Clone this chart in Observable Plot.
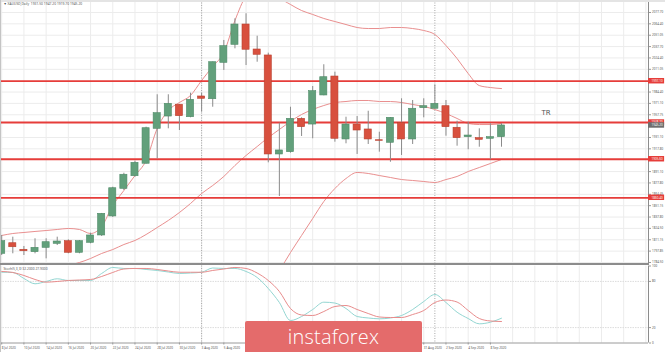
<!DOCTYPE html>
<html><head><meta charset="utf-8">
<script src="https://cdn.jsdelivr.net/npm/d3@7"></script>
<script src="https://cdn.jsdelivr.net/npm/@observablehq/plot@0.6"></script>
<style>
html,body{margin:0;padding:0;background:#fff;}
#chart{position:relative;width:665px;height:352px;overflow:hidden;font-family:Tahoma,"DejaVu Sans",sans-serif;background:#fff;}
#chart svg{position:absolute;left:0;}
#topband{position:absolute;left:0;top:0;width:665px;height:2px;background:#e4e4e4;}
#leftline{position:absolute;left:0;top:0;width:1px;height:352px;background:#c4c4c4;}
#sep{position:absolute;left:0;top:263px;width:649px;height:2px;background:#8c8c8c;}
#logo{position:absolute;left:245px;top:321px;width:177px;height:31px;background:#e46b6b;border-radius:2px 2px 0 0;color:#fff;font-family:"Open Sans",sans-serif;font-weight:300;font-size:20px;line-height:31px;text-align:center;letter-spacing:0.2px;}
</style></head><body><div id="chart"></div>
<script>
// ---- data ----
const symbol = "XAUUSD,Daily";
const open  = [1794.7,1807.1,1799.4,1796.6,1801.7,1806.4,1809.5,1795.9,1807.6,1816.2,1838.5,1870.9,1885.7,1900.3,1941.3,1955.7,1969.5,1954.9,1979.2,1976.0,2018.7,2039.8,2063.6,2034.3,2027.3,1911.2,1913.9,1953.0,1946.3,1980.4,2002.6,1928.8,1946.3,1940.5,1927.9,1924.9,1948.3,1928.8,1965.5,1964.8,1967.8,1942.5,1931.5,1930.3,1929.6,1931.5];
const high  = [1816.2,1814.2,1803.3,1812.3,1812.3,1814.2,1811.1,1810.3,1818.9,1842.0,1872.8,1889.2,1903.3,1943.2,1981.2,1981.2,1969.9,1983.1,1983.1,2019.6,2044.9,2070.3,2076.2,2049.9,2030.0,1947.9,1966.6,1954.2,1990.9,2016.4,2007.7,1954.9,1955.7,1961.9,1937.3,1954.5,1976.5,1974.5,1976.5,1992.9,1974.5,1950.2,1949.0,1941.3,1947.2,1947.2];
const low   = [1792.7,1794.7,1792.7,1794.7,1788.8,1804.4,1794.7,1794.7,1806.4,1815.0,1837.3,1868.9,1884.5,1900.0,1906.1,1941.3,1939.3,1954.2,1960.8,1966.6,2009.7,2035.1,2015.5,2019.4,1901.4,1861.9,1912.7,1932.3,1929.6,1980.0,1925.6,1923.7,1911.2,1922.9,1913.9,1902.1,1910.0,1922.9,1954.2,1964.5,1932.6,1920.9,1916.7,1919.7,1904.9,1919.7];
const close = [1809.5,1802.4,1797.7,1801.7,1808.3,1809.1,1795.9,1809.5,1816.2,1841.6,1871.6,1887.4,1901.4,1942.0,1959.6,1970.6,1956.1,1975.3,1976.5,2019.4,2038.2,2063.6,2034.0,2028.1,1911.2,1915.9,1953.0,1943.2,1985.4,2001.8,1929.6,1946.3,1939.3,1928.8,1927.2,1954.2,1928.8,1964.8,1967.8,1970.6,1943.2,1930.3,1933.4,1928.4,1931.5,1945.2];
const bbUpper  = [1816.2,1818.5,1819.7,1820.9,1822.0,1823.2,1824.4,1823.2,1818.5,1826.7,1851.4,1868.9,1886.5,1904.1,1941.7,1962.8,1972.1,1980.4,1998.0,2014.4,2030.8,2068.3,2097.6,2109.4,2109.4,2095.3,2087.1,2080.0,2075.4,2070.7,2067.1,2063.6,2060.1,2058.9,2058.9,2060.1,2060.1,2058.9,2056.6,2051.9,2038.9,2023.7,2006.1,1992.0,1989.7,1988.5];
const bbMiddle = [null,null,null,null,null,1777.5,1781.0,1784.5,1789.2,1795.1,1799.7,1805.6,1810.3,1817.3,1825.5,1833.8,1843.1,1853.7,1865.4,1874.8,1885.4,1898.3,1910.0,1920.5,1931.1,1940.5,1949.9,1958.1,1963.9,1968.6,1972.1,1973.3,1974.5,1974.5,1973.3,1973.3,1972.1,1969.8,1967.5,1963.9,1959.2,1953.4,1947.5,1946.3,1946.3,1947.5];
const bbLower  = [null,null,null,null,null,null,null,null,null,null,null,null,null,null,null,null,null,null,null,null,null,null,null,null,1757.5,1775.1,1796.2,1816.2,1836.1,1856.0,1871.3,1883.0,1890.1,1888.9,1886.5,1884.2,1881.8,1880.7,1879.5,1878.3,1881.8,1885.4,1891.2,1895.9,1900.6,1905.3];
const stochK = [91.9,91.6,83.8,76.9,79.9,83.4,81.2,81.2,81.2,90.3,98.1,96.8,96.8,95.5,94.2,92.2,90.3,90.9,91.9,97.4,96.8,96.8,92.9,85.1,70.8,52.6,29.2,34.4,43.5,53.0,51.9,44.8,34.4,32.5,31.4,32.5,35.7,43.5,53.9,63.0,52.6,40.0,31.8,24.9,27.0,32.2];
const stochD = [92.9,91.6,87.7,82.5,79.0,79.9,81.2,81.8,82.5,86.4,91.6,96.1,96.8,96.8,95.5,93.5,91.9,91.9,91.9,94.2,96.1,98.1,96.8,90.9,81.2,66.9,44.8,36.4,35.7,40.9,47.4,48.7,43.5,38.3,33.8,33.1,33.1,37.0,42.2,52.6,55.8,53.2,42.2,31.8,28.6,27.9];
const levels = [1997.1,1948.7,1905.6,1860.4];
const levelLabels = ["1997.10","1948.70","1905.60","1860.40"];
const priceTicks = [2077.70,2064.40,2051.05,2037.70,2024.40,2011.05,1984.40,1971.10,1957.75,1931.10,1917.80,1891.10,1877.80,1864.45,1851.15,1837.80,1824.50,1811.15,1797.85,1784.50];
const priceTickLabels = ["2077.70","2064.40","2051.05","2037.70","2024.40","2011.05","1984.40","1971.10","1957.75","1931.10","1917.80","1891.10","1877.80","1864.45","1851.15","1837.80","1824.50","1811.15","1797.85","1784.50"];
// date labels visible in the reference (those under the watermark are hidden there)
const dateTickIdx = [0,2,4,6,8,10,12,14,16,18,20,38,40,42,44];
const dateTickLabels = ["8 Jul 2020","10 Jul 2020","14 Jul 2020","16 Jul 2020","20 Jul 2020","22 Jul 2020","24 Jul 2020","28 Jul 2020","30 Jul 2020","3 Aug 2020","5 Aug 2020","31 Aug 2020","2 Sep 2020","4 Sep 2020","8 Sep 2020"];
const gridIdx = [0,2,4,6,8,10,12,14,16,18,20,22,24,26,28,30,32,34,36,38,40,42,44,46,48,50,52,54,56,58];
const monthSeparators = [18,39];
const stochTicks = [100,80,20,0];
const stochLevels = [80,20];
const annotation = {text:"TR", index:49, price:1960.4};

// ---- scales / layout ----
const X_DOMAIN = [-0.108, 58.234];
const Y_DOMAIN = [1782.15, 2091.77];
const C_UP = "#62a07b", C_DN = "#d8503e", C_LEVEL = "#e63d3a", C_BAND = "#e98f8f";

const candles = open.map((o,i)=>({i, o, h:high[i], l:low[i], c:close[i], up: close[i] >= o}));
const bands = [];
[["u",bbUpper],["m",bbMiddle],["l",bbLower]].forEach(([k,arr]) => arr.forEach((v,i)=>bands.push({k,i,v})));
const tickLab = new Map(priceTicks.map((t,i)=>[t, priceTickLabels[i]]));
const dateLab = new Map(dateTickIdx.map((t,i)=>[t, dateTickLabels[i]]));
const last = candles[candles.length-1];
const header = `▼ ${symbol}  ${last.o.toFixed(2)} ${last.h.toFixed(2)} ${last.l.toFixed(2)} ${last.c.toFixed(2)}`;
const fmt = d3.format(".2f");

const chart = document.getElementById("chart");

const main = Plot.plot({
  width: 665, height: 264,
  marginLeft: 0, marginRight: 17, marginTop: 0, marginBottom: 0,
  x: {domain: X_DOMAIN, axis: null},
  y: {domain: Y_DOMAIN, axis: null},
  style: {background: "transparent", overflow: "visible"},
  marks: [
    Plot.ruleX(gridIdx, {stroke: "#ececec", strokeWidth: 1}),
    Plot.ruleY(priceTicks, {stroke: "#ececec", strokeWidth: 1}),
    Plot.ruleX(monthSeparators, {stroke: "#a8a8a8", strokeDasharray: "1,1.5"}),
    Plot.line(bands, {x: "i", y: "v", z: "k", stroke: C_BAND, strokeWidth: 1, clip: true, curve: "monotone-x"}),
    Plot.ruleY(levels, {stroke: C_LEVEL, strokeWidth: 1.8}),
    Plot.ruleX(candles, {x: "i", y1: "l", y2: "h", stroke: "#8a8a8a", strokeWidth: 1, clip: true}),
    Plot.rect(candles, {x1: d => d.i - 0.32, x2: d => d.i + 0.32, y1: "o", y2: "c",
      fill: d => d.up ? C_UP : C_DN, stroke: d => d.up ? "#4f8a68" : "#b9412f", strokeWidth: 0.6, clip: true}),
    Plot.text([annotation], {x: "index", y: "price", text: "text", fontSize: 7, fill: "#555", fontFamily: "Tahoma, DejaVu Sans, sans-serif"}),
    Plot.text([header], {frameAnchor: "top-left", dx: 3, dy: 2.5, fontSize: 3.3, fill: "#555", lineAnchor: "top"}),
    Plot.ruleX([X_DOMAIN[1]], {stroke: "#8c8c8c", strokeWidth: 1}),
    Plot.axisY(priceTicks, {anchor: "right", tickSize: 2, tickPadding: 1.5, fontSize: 3, textAnchor: "start", fill: "#555", stroke: "#999", tickFormat: d => tickLab.get(d)}),
    Plot.rect(levels, {x1: X_DOMAIN[1], x2: X_DOMAIN[1] + 1.45, y1: d => d - 3.2, y2: d => d + 3.2, fill: C_LEVEL}),
    Plot.text(levels, {x: X_DOMAIN[1], y: d => d, text: (d,i) => levelLabels[i], dx: 3, textAnchor: "start", fontSize: 3, fill: "#fff"}),
    Plot.rect([last], {x1: X_DOMAIN[1], x2: X_DOMAIN[1] + 1.45, y1: d => d.c - 3.2, y2: d => d.c + 3.2, fill: "#6e6e6e"}),
    Plot.text([last], {x: X_DOMAIN[1], y: "c", text: d => fmt(d.c), dx: 3, textAnchor: "start", fontSize: 3, fill: "#fff"})
  ]
});
main.style.top = "0px";
chart.appendChild(main);

const stoch = Plot.plot({
  width: 665, height: 88,
  marginLeft: 0, marginRight: 17, marginTop: 1.5, marginBottom: 9.5,
  x: {domain: X_DOMAIN, axis: null},
  y: {domain: [0, 100], axis: null},
  style: {background: "transparent", overflow: "visible"},
  marks: [
    Plot.ruleX(gridIdx, {stroke: "#ececec", strokeWidth: 1}),
    Plot.ruleY(stochLevels, {stroke: "#dcdcdc", strokeDasharray: "1.5,1"}),
    Plot.ruleX(monthSeparators, {stroke: "#a8a8a8", strokeDasharray: "1,1.5"}),
    Plot.line(stochK, {x: (d,i) => i, y: d => d, stroke: "#93d6d2", strokeWidth: 1, curve: "monotone-x"}),
    Plot.line(stochD, {x: (d,i) => i, y: d => d, stroke: "#e88c8c", strokeWidth: 1, curve: "monotone-x"}),
    Plot.text([`Stoch(5,3,3) ${stochK[stochK.length-1].toFixed(4)} ${stochD[stochD.length-1].toFixed(4)}`], {frameAnchor: "top-left", dx: 3, dy: 1.5, fontSize: 3.3, fill: "#555", lineAnchor: "top"}),
    Plot.ruleX([X_DOMAIN[1]], {stroke: "#8c8c8c", strokeWidth: 1}),
    Plot.ruleY([0], {stroke: "#9a9a9a", strokeWidth: 1}),
    Plot.axisY(stochTicks, {anchor: "right", tickSize: 2, tickPadding: 1.5, fontSize: 3, textAnchor: "start", fill: "#555", stroke: "#999"}),
    Plot.axisX(dateTickIdx, {anchor: "bottom", tickSize: 2, tickPadding: 1.5, fontSize: 3.1, textAnchor: "start", fill: "#555", stroke: "#999", tickFormat: d => dateLab.get(d)})
  ]
});
stoch.style.top = "264px";
chart.appendChild(stoch);

for (const id of ["topband","leftline","sep"]) {
  const el = document.createElement("div"); el.id = id; chart.appendChild(el);
}
const logo = document.createElement("div");
logo.id = "logo"; logo.textContent = "instaforex";
chart.appendChild(logo);
</script>
</body></html>
